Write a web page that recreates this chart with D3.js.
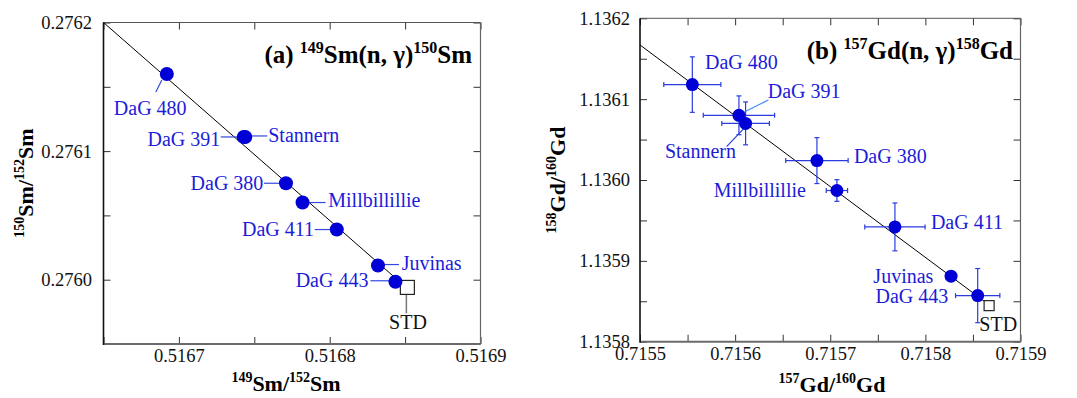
<!DOCTYPE html>
<html><head><meta charset="utf-8">
<script src="https://cdn.jsdelivr.net/npm/d3@7"></script>
<style>body{margin:0;background:#fff}svg{display:block}</style>
</head><body>
<svg id="c" width="1077" height="398"></svg>
<script>
// ---------- data ----------
const smNames = ["DaG 480","DaG 391","Stannern","DaG 380","Millbillillie","DaG 411","Juvinas","DaG 443"];
const smX = [0.516692,0.516743,0.516744,0.516771,0.516782,0.5168047,0.516832,0.5168436];
const smY = [0.276160,0.276111,0.276111,0.276075,0.276060,0.276039,0.276011,0.2759984];
const smStd = [0.5168515,0.275994];
const smLine = [[0.51665,0.2762],[0.5168474,0.2759974]];
const smXTicks = [0.5167,0.5168,0.5169];
const smYTicks = [0.2760,0.2761,0.2762];

const gdNames = ["DaG 480","DaG 391","Stannern","DaG 380","Millbillillie","DaG 411","Juvinas","DaG 443"];
const gdX = [0.715555,0.715604,0.715611,0.715686,0.715707,0.715768,0.715827,0.715855];
const gdY = [1.136118,1.136080,1.136070,1.136024,1.135987,1.135942,1.135881,1.135857];
const gdXErr = [0.000030,0.0000375,0.0000250,0.0000328,0.0000112,0.0000317,0,0.0000233];
const gdYErr = [0.0000343,0.0000240,0.0000265,0.0000284,0.0000134,0.0000296,0,0.0000335];
const gdStd = [0.715867,1.1358446];
const gdLine = [[0.7155,1.136167],[0.715862,1.13585]];
const gdXTicks = [0.7155,0.7156,0.7157,0.7158,0.7159];
const gdYTicks = [1.1358,1.1359,1.1360,1.1361,1.1362];

// ---------- layout (label placement relative to points, px) ----------
const smLabels = [
  {a:"start", dx:-53, dy:41, l:[-11,18,-5,6]},
  {a:"end", dx:-23.5, dy:9, l:[-23,0,0,0]},
  {a:"start", dx:23, dy:5, l:[5,-1,22,-1]},
  {a:"end", dx:-22.6, dy:6.7, l:[-22,0,0,0]},
  {a:"start", dx:25.7, dy:4.5, l:[4,0,23,0]},
  {a:"end", dx:-22.8, dy:6.5, l:[-22,0,0,0]},
  {a:"start", dx:23.7, dy:4, l:[4,-1,21,-1]},
  {a:"end", dx:-27, dy:5, l:[-25,-1,0,-1]}
];
const gdLabels = [
  {a:"start", dx:12.7, dy:-15.6},
  {a:"start", dx:28.8, dy:-17, l:[3,-2,29.4,-15.3], lc:"#3d8cf5"},
  {a:"end", dx:-9.6, dy:35, l:[-19,23.3,-1.6,5], lc:"#2a44e0"},
  {a:"start", dx:37, dy:2.7},
  {a:"end", dx:-31, dy:6},
  {a:"start", dx:36, dy:2.5},
  {a:"end", dx:-17.7, dy:6.5},
  {a:"end", dx:-29.4, dy:7}
];

const BLUE = "#0000d6", TBLUE = "#1c1cd8", EBLUE = "#2a3ce0";
const FONT = "'Liberation Serif','Times New Roman',serif";
const svg = d3.select("#c").style("font-family", FONT);
const fmt = d3.format(".4f");

function minorTicks(dom, step){
  const out=[]; const n=Math.round((dom[1]-dom[0])/step);
  for(let i=0;i<=n;i++) out.push(+(dom[0]+i*step).toFixed(7));
  return out;
}
function isMajor(v, majors){ return majors.some(m=>Math.abs(m-v)<1e-9); }

function supText(sel, parts, big, small, raise){
  parts.forEach(p=>{
    if(p.s){
      sel.append("tspan").attr("font-size",small).attr("dy",-raise).text(p.t);
    } else {
      const ts = sel.append("tspan").attr("font-size",big).text(p.t);
      if(p.back) ts.attr("dy",raise);
    }
  });
}

function panel(o){
  const g = svg.append("g");
  const x = d3.scaleLinear().domain(o.xd).range([o.L,o.R]);
  const y = d3.scaleLinear().domain(o.yd).range([o.B,o.T]);
  const xt = minorTicks(o.xd, 0.00005), yt = minorTicks(o.yd, 0.00005);

  const axStyle = (ax)=>{ ax.select(".domain").remove(); ax.selectAll(".tick line").attr("stroke","#333").attr("stroke-width",1);
    ax.selectAll("text").attr("font-family",FONT).attr("font-size",18.5).attr("fill","#111"); };

  const bx = g.append("g").attr("transform",`translate(0,${o.B})`)
    .call(d3.axisBottom(x).tickValues(xt).tickSize(-7).tickPadding(5).tickFormat(v=>isMajor(v,o.xMaj)?fmt(v):""));
  axStyle(bx);
  const tx = g.append("g").attr("transform",`translate(0,${o.T})`)
    .call(d3.axisTop(x).tickValues(xt).tickSize(-7).tickFormat(""));
  axStyle(tx);
  const ly = g.append("g").attr("transform",`translate(${o.L},0)`)
    .call(d3.axisLeft(y).tickValues(yt).tickSize(-7).tickPadding(o.yPad).tickFormat(v=>isMajor(v,o.yMaj)?fmt(v):""));
  axStyle(ly);
  const ry = g.append("g").attr("transform",`translate(${o.R},0)`)
    .call(d3.axisRight(y).tickValues(yt).tickSize(-7).tickFormat(""));
  axStyle(ry);

  // frame
  g.append("line").attr("x1",o.L).attr("x2",o.R).attr("y1",o.T).attr("y2",o.T).attr("stroke","#555").attr("stroke-width",1);
  g.append("line").attr("x1",o.R).attr("x2",o.R).attr("y1",o.T).attr("y2",o.B).attr("stroke","#666").attr("stroke-width",1.2);
  g.append("line").attr("x1",o.L).attr("x2",o.R).attr("y1",o.B).attr("y2",o.B).attr("stroke","#6a6a6a").attr("stroke-width",2);
  g.append("line").attr("x1",o.L).attr("x2",o.L).attr("y1",o.T).attr("y2",o.B+1).attr("stroke","#111").attr("stroke-width",1.6);

  // regression line
  g.append("line").attr("x1",x(o.line[0][0])).attr("y1",y(o.line[0][1]))
    .attr("x2",x(o.line[1][0])).attr("y2",y(o.line[1][1])).attr("stroke","#000").attr("stroke-width",1);

  const pts = o.names.map((n,i)=>({n, x:o.xs[i], y:o.ys[i], ex:o.ex?o.ex[i]:0, ey:o.ey?o.ey[i]:0, lab:o.labels[i]}));

  // error bars
  const cap = 2.5;
  pts.forEach(p=>{
    const cx=x(p.x), cy=y(p.y);
    if(p.ex>0){
      const x1=x(p.x-p.ex), x2=x(p.x+p.ex);
      g.append("line").attr("x1",x1).attr("x2",x2).attr("y1",cy).attr("y2",cy).attr("stroke",EBLUE).attr("stroke-width",1.2);
      [x1,x2].forEach(xx=>g.append("line").attr("x1",xx).attr("x2",xx).attr("y1",cy-cap).attr("y2",cy+cap).attr("stroke",EBLUE).attr("stroke-width",1.2));
    }
    if(p.ey>0){
      const y1=y(p.y-p.ey), y2=y(p.y+p.ey);
      g.append("line").attr("x1",cx).attr("x2",cx).attr("y1",y1).attr("y2",y2).attr("stroke",EBLUE).attr("stroke-width",1.2);
      [y1,y2].forEach(yy=>g.append("line").attr("x1",cx-cap).attr("x2",cx+cap).attr("y1",yy).attr("y2",yy).attr("stroke",EBLUE).attr("stroke-width",1.2));
    }
  });

  // leader lines
  pts.forEach(p=>{
    const cx=x(p.x), cy=y(p.y), L=p.lab;
    if(L.l) g.append("line").attr("x1",cx+L.l[0]).attr("y1",cy+L.l[1]).attr("x2",cx+L.l[2]).attr("y2",cy+L.l[3])
      .attr("stroke",L.lc||"#3448e0").attr("stroke-width",1.2);
  });

  // STD
  const sx=x(o.std[0]), sy=y(o.std[1]);
  if(o.stdLead) g.append("line").attr("x1",sx-1).attr("x2",sx-1).attr("y1",sy+o.stdLead[0]).attr("y2",sy+o.stdLead[1]).attr("stroke","#777").attr("stroke-width",1.5);
  g.append("rect").attr("x",sx-o.sq/2).attr("y",sy-o.sq/2).attr("width",o.sq).attr("height",o.sq)
    .attr("fill","#fff").attr("stroke","#222").attr("stroke-width",1.2);
  g.append("text").attr("x",sx+o.stdText[0]).attr("y",sy+o.stdText[1]).attr("text-anchor",o.stdText[2])
    .attr("font-size",20).attr("fill","#111").text("STD");

  // dots
  g.selectAll("circle.pt").data(pts).enter().append("circle")
    .attr("cx",d=>x(d.x)).attr("cy",d=>y(d.y)).attr("r",o.r).attr("fill",BLUE);

  // labels
  pts.forEach(p=>{
    g.append("text").attr("x",x(p.x)+p.lab.dx).attr("y",y(p.y)+p.lab.dy).attr("text-anchor",p.lab.a)
      .attr("font-size",20).attr("fill",TBLUE).text(p.n);
  });

  // title
  const t = g.append("text").attr("x",o.title.x).attr("y",o.title.y).attr("text-anchor","end")
    .attr("font-weight","bold").attr("fill","#000");
  supText(t, o.title.parts, 25, 16, 10);

  // axis titles
  const xl = g.append("text").attr("x",o.xlab.x).attr("y",o.xlab.y).attr("text-anchor","middle").attr("font-weight","bold");
  supText(xl, o.xlab.parts, 22, 14, 9);
  const yl = g.append("text").attr("transform",`translate(${o.ylab.x},${o.ylab.y}) rotate(-90)`).attr("text-anchor","middle").attr("font-weight","bold");
  supText(yl, o.ylab.parts, 22, 14, 9);
}

panel({
  L:103.5, R:480.5, T:22.5, B:344, xd:[0.51665,0.5169], yd:[0.27595,0.2762],
  xMaj:smXTicks, yMaj:smYTicks, yPad:11.5,
  names:smNames, xs:smX, ys:smY, labels:smLabels, r:7,
  std:smStd, sq:14, stdLead:[7,26], stdText:[0.6,41.6,"middle"], line:smLine,
  title:{x:472, y:63, parts:[{t:"(a) "},{t:"149",s:true},{t:"Sm(n, γ)",back:true},{t:"150",s:true},{t:"Sm",back:true}]},
  xlab:{x:286, y:391, parts:[{t:"149",s:true},{t:"Sm/",back:true},{t:"152",s:true},{t:"Sm",back:true}]},
  ylab:{x:33, y:183, parts:[{t:"150",s:true},{t:"Sm/",back:true},{t:"152",s:true},{t:"Sm",back:true}]}
});

panel({
  L:640, R:1020.5, T:18.3, B:341.7, xd:[0.7155,0.7159], yd:[1.1358,1.1362],
  xMaj:gdXTicks, yMaj:gdYTicks, yPad:10,
  names:gdNames, xs:gdX, ys:gdY, ex:gdXErr, ey:gdYErr, labels:gdLabels, r:6.5,
  std:gdStd, sq:10, stdLead:null, stdText:[-9.8,25.4,"start"], line:gdLine,
  title:{x:1013, y:59, parts:[{t:"(b) "},{t:"157",s:true},{t:"Gd(n, γ)",back:true},{t:"158",s:true},{t:"Gd",back:true}]},
  xlab:{x:832, y:392, parts:[{t:"157",s:true},{t:"Gd/",back:true},{t:"160",s:true},{t:"Gd",back:true}]},
  ylab:{x:565, y:180, parts:[{t:"158",s:true},{t:"Gd/",back:true},{t:"160",s:true},{t:"Gd",back:true}]}
});
</script>
</body></html>
